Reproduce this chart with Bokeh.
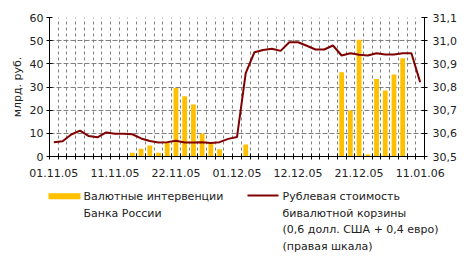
import numpy as np
from bokeh.plotting import figure
from bokeh.models import (Range1d, LinearAxis, FixedTicker, CustomJSTickFormatter,
                          ColumnDataSource, Label)
from bokeh.embed import file_html
from bokeh.resources import INLINE

dates = ["01.11.05", "02.11.05", "03.11.05", "07.11.05", "08.11.05", "09.11.05", "10.11.05",
         "11.11.05", "14.11.05", "15.11.05", "16.11.05", "17.11.05", "18.11.05", "21.11.05",
         "22.11.05", "23.11.05", "24.11.05", "25.11.05", "28.11.05", "29.11.05", "30.11.05",
         "01.12.05", "02.12.05", "05.12.05", "06.12.05", "07.12.05", "08.12.05", "09.12.05",
         "12.12.05", "13.12.05", "14.12.05", "15.12.05", "16.12.05", "19.12.05", "20.12.05",
         "21.12.05", "22.12.05", "23.12.05", "26.12.05", "27.12.05", "28.12.05", "29.12.05",
         "11.01.06"]

interventions = [0, 0, 0, 0, 0, 0, 0, 0, 0, 1.6, 3.3, 4.7, 1.6, 6.0, 29.6, 26.0, 22.4, 9.8, 6.0, 3.1,
                 0, 0, 5.2, 0, 0, 0, 0, 0, 0, 0, 0, 0, 0, 36.4, 19.9, 50.4, 0.9, 33.5, 28.5, 35.4,
                 42.4, 0, 0]

basket = [30.562, 30.566, 30.595, 30.612, 30.588, 30.583, 30.604, 30.598, 30.598, 30.596,
          30.578, 30.567, 30.560, 30.562, 30.568, 30.560, 30.560, 30.562, 30.558, 30.562,
          30.576, 30.584, 30.860, 30.950, 30.960, 30.965, 30.956, 30.993, 30.993, 30.978,
          30.962, 30.962, 30.979, 30.936, 30.946, 30.939, 30.936, 30.946, 30.940, 30.940,
          30.946, 30.946, 30.821]

left_ticks = [0, 10, 20, 30, 40, 50, 60]
right_ticks = [30.5, 30.6, 30.7, 30.8, 30.9, 31.0, 31.1]

legend_bar = ["Валютные интервенции", "Банка России"]
legend_line = ["Рублевая стоимость", "бивалютной корзины", "(0,6 долл. США + 0,4 евро)", "(правая шкала)"]

BAR = "#FFC000"
LINE = "#800000"
FONT = "DejaVu Sans"
FS = "11px"
LFS = "11px"
TXT = "#222222"

n = len(dates)
xc = np.arange(n) + 0.5
src = ColumnDataSource(dict(x=xc, bars=interventions, basket=basket))

p = figure(width=468, height=185, x_range=Range1d(0, n), y_range=Range1d(0, 60),
           output_backend="svg", toolbar_location=None,
           min_border_left=49, min_border_right=44, min_border_top=17, min_border_bottom=29)
p.extra_y_ranges = {"right": Range1d(30.5, 31.1)}
p.outline_line_color = None
p.background_fill_color = "white"
p.border_fill_color = "white"

p.vbar(x="x", top="bars", width=0.55, source=src, fill_color=BAR, line_color=None)
p.line(x="x", y="basket", source=src, y_range_name="right", line_color=LINE, line_width=2)

# x axis
xa = p.xaxis[0]
xa.ticker = FixedTicker(ticks=list(xc[::7]), minor_ticks=list(range(0, n + 1)))
xa.formatter = CustomJSTickFormatter(args=dict(labels=dates),
                                     code="const i = Math.round(tick - 0.5); return labels[i] || '';")
xa.major_tick_in = 0
xa.major_tick_out = 0
xa.minor_tick_in = 3
xa.minor_tick_out = 3
xa.minor_tick_line_color = "black"
xa.axis_line_color = "black"
xa.major_label_standoff = 9
xa.major_label_text_font = FONT
xa.major_label_text_font_size = FS
xa.major_label_text_color = TXT

# left axis
ya = p.yaxis[0]
ya.ticker = FixedTicker(ticks=left_ticks)
ya.major_tick_in = 3
ya.major_tick_out = 3
ya.minor_tick_line_color = None
ya.axis_line_color = "black"
ya.major_label_standoff = 3
ya.major_label_text_font = FONT
ya.major_label_text_font_size = FS
ya.major_label_text_color = TXT
ya.axis_label = "млрд. руб."
ya.axis_label_text_font = FONT
ya.axis_label_text_font_size = FS
ya.axis_label_text_font_style = "normal"
ya.axis_label_text_color = TXT
ya.axis_label_standoff = 3

# right axis
ra = LinearAxis(y_range_name="right")
ra.ticker = FixedTicker(ticks=right_ticks)
ra.formatter = CustomJSTickFormatter(code="return tick.toFixed(1).replace('.', ',');")
ra.major_tick_in = 3
ra.major_tick_out = 3
ra.minor_tick_line_color = None
ra.axis_line_color = "black"
ra.major_label_standoff = 5
ra.major_label_text_font = FONT
ra.major_label_text_font_size = FS
ra.major_label_text_color = TXT
p.add_layout(ra, "right")

# grids
p.xgrid.ticker = FixedTicker(ticks=list(range(1, n)))
p.xgrid.grid_line_color = "#808080"
p.xgrid.grid_line_dash = "3 3"
p.xgrid.grid_line_width = 1
p.ygrid.ticker = FixedTicker(ticks=left_ticks[1:-1])
p.ygrid.grid_line_color = "#808080"
p.ygrid.grid_line_dash = "5 2"
p.ygrid.grid_line_width = 1

# legend as a separate root (pixel-like coordinates, y downward)
lg = figure(width=468, height=72, x_range=Range1d(0, 468), y_range=Range1d(72, 0),
            output_backend="svg", toolbar_location=None,
            x_axis_location=None, y_axis_location=None,
            min_border_left=0, min_border_right=0, min_border_top=0, min_border_bottom=0)
lg.grid.visible = False
lg.outline_line_color = None
lg.background_fill_color = "white"
lg.border_fill_color = "white"

lg.quad(left=[48], right=[80], top=[7.7], bottom=[13.7], fill_color=BAR, line_color=None)
lg.line(x=[247, 278], y=[10, 10], line_color=LINE, line_width=2)
for k, t in enumerate(legend_bar):
    lg.add_layout(Label(x=83, y=11 + 16.7 * k, text=t, text_font=FONT, text_font_size=LFS,
                        text_baseline="middle", text_align="left", text_color=TXT))
for k, t in enumerate(legend_line):
    lg.add_layout(Label(x=282, y=11 + 16.7 * k, text=t, text_font=FONT, text_font_size=LFS,
                        text_baseline="middle", text_align="left", text_color=TXT))

open("out.html", "w").write(file_html([p, lg], INLINE))
